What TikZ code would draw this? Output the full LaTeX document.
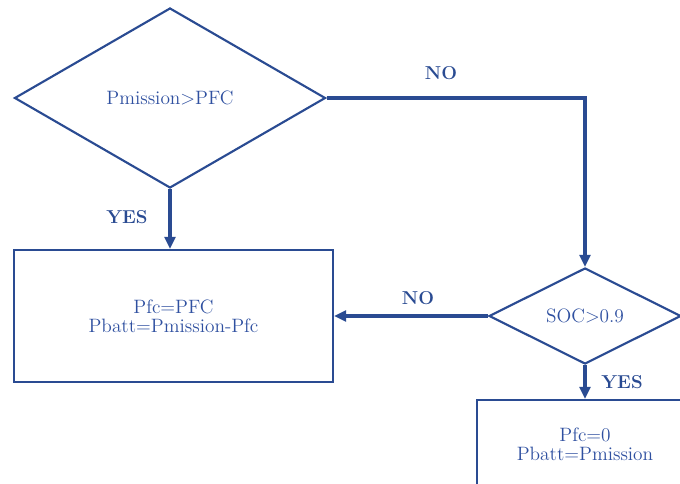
\documentclass[tikz,border=0pt]{standalone}
\usetikzlibrary{shapes.geometric,arrows.meta}
\definecolor{fc}{HTML}{2A4B92}
\definecolor{ft}{HTML}{2F50A0}
\begin{document}
\begin{tikzpicture}[x=0.75pt,y=-0.75pt,
  every node/.style={font=\fontsize{14.5pt}{17pt}\selectfont, text=ft},
  dec/.style={draw=fc, line width=1.6pt, shape=diamond, inner sep=0pt},
  procbox/.style={draw=fc, line width=1.6pt, rectangle, inner sep=0pt, align=center},
  flow/.style={draw=fc, line width=3pt, -{Triangle[length=9pt,width=8pt]}},
  lbl/.style={font=\fontsize{14pt}{16pt}\selectfont\bfseries, text=fc}]
\useasboundingbox (0,0) rectangle (680,484);
\clip (0,0) rectangle (680,484);
\node[dec, minimum width=311*0.75pt, minimum height=180*0.75pt] (d1) at (170,98) {Pmission>PFC};
\node[procbox, minimum width=319*0.75pt, minimum height=132*0.75pt] (b1) at (173.5,316) {Pfc=PFC\\[-3pt]Pbatt=Pmission-Pfc};
\node[dec, minimum width=192*0.75pt, minimum height=96*0.75pt] (d2) at (585,316) {SOC>0.9};
\node[procbox, minimum width=216*0.75pt, minimum height=88*0.75pt] (b2) at (585,444) {Pfc=0\\[-3pt]Pbatt=Pmission};
\draw[flow] (d1.south) -- (d1.south |- b1.north);
\draw[flow] (d1.east) -| (d2.north);
\draw[flow] (d2.west) -- (b1.east);
\draw[flow] (d2.south) -- (b2.north);
\node[lbl] (yes1) at (127,217) {YES};
\node[lbl] (no1) at (441,73) {NO};
\node[lbl] (no2) at (418,298) {NO};
\node[lbl] (yes2) at (622,382) {YES};
\end{tikzpicture}
\end{document}
